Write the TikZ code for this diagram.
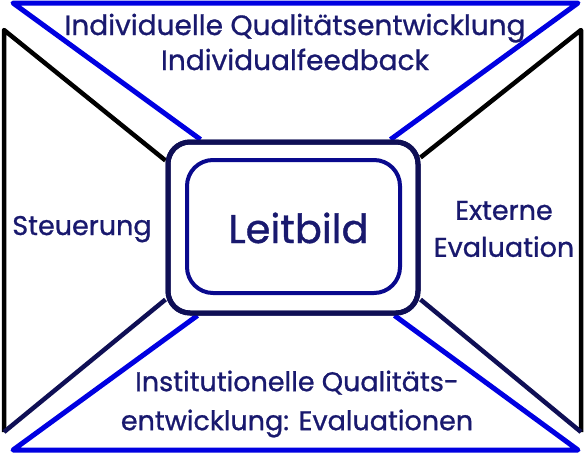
\documentclass[tikz,border=0pt]{standalone}
\usepackage{fontspec}
\setmainfont{Poppins}
\newfontfamily\schrift{Poppins}[FakeBold=0.9]
\usetikzlibrary{positioning, calc}
\definecolor{textnavy}{RGB}{25,25,110}
\definecolor{frameblue}{RGB}{0,0,225}
\definecolor{boxnavy}{RGB}{15,15,85}

\begin{document}
\begin{tikzpicture}[x=1pt, y=-1pt,
      lbl/.style={text=textnavy, font=\schrift\fontsize{27}{37}\selectfont, align=center, inner sep=0pt},
      leittext/.style={text=textnavy, font=\schrift\fontsize{40}{44}\selectfont, inner sep=0pt},
      blueline/.style={frameblue, line width=5pt, line join=round},
      darkline/.style={black, line width=4.5pt, line join=round},
      navyline/.style={boxnavy, line width=4.5pt, line join=round},
      outerbox/.style={draw=boxnavy, line width=5pt, rounded corners=22pt, minimum width=250pt, minimum height=171pt, inner sep=0pt},
      innerbox/.style={draw=boxnavy!60!frameblue, line width=4pt, rounded corners=26pt, minimum width=213pt, minimum height=133pt, inner sep=0pt}
    ]
      \useasboundingbox (0,0) rectangle (585,455);

      % Center
      \node[outerbox] (rahmen) at (293,227.5) {};
      \node[innerbox] (kern) at (293.5,226.5) {};

      % Corners of the frame
      \coordinate (olinks) at (13,3);
      \coordinate (orechts) at (578,3);
      \coordinate (ulinks) at (13,450);
      \coordinate (urechts) at (578,450);
      \coordinate (lo) at (4,30);
      \coordinate (lu) at (4,432);
      \coordinate (ro) at (581,30);
      \coordinate (ru) at (581,432);

      % Top part
      \draw[blueline] ([xshift=35pt]rahmen.north west) -- (olinks) -- (orechts) -- ([xshift=-30pt]rahmen.north east);

      % Bottom part
      \draw[blueline] ([xshift=32pt]rahmen.south west) -- (ulinks) -- (urechts) -- ([xshift=-26pt]rahmen.south east);

      % Left part
      \draw[darkline] ([yshift=-21pt]rahmen.north west) -- (lo) -- (lu);
      \draw[navyline] (lu) -- ([yshift=16pt]rahmen.south west);

      % Right part
      \draw[darkline] ([yshift=-18pt]rahmen.north east) -- (ro) -- (ru);
      \draw[navyline] (ru) -- ([yshift=16pt]rahmen.south east);

      % redraw the box on top
      \node[outerbox] at (rahmen) {};

      % Labels
      \node[leittext, anchor=base] (leitbild) at ([xshift=5pt, yshift=-16.5pt]kern.center) {Leitbild};
      \node[lbl, font=\schrift\fontsize{28}{35}\selectfont] (individuell) at (295,42) {Individuelle Qualitätsentwicklung\\Individualfeedback};
      \node[lbl, anchor=base] (steuerung) at (82,235) {Steuerung};
      \node[lbl] (extern) at (504,229) {Externe\\Evaluation};
      \node[lbl, font=\schrift\fontsize{27}{39}\selectfont] (institution) at (297,404) {Institutionelle Qualitäts-\\entwicklung: Evaluationen};
    \end{tikzpicture}
\end{document}
